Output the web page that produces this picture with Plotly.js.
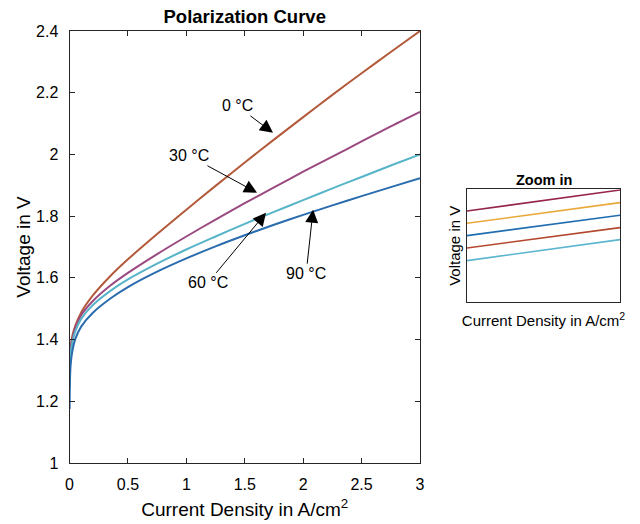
<!DOCTYPE html>
<html>
<head>
<meta charset="utf-8">
<script src="https://cdn.plot.ly/plotly-3.0.1.min.js"></script>
<style>html,body{margin:0;padding:0;background:#fff;}#chart{width:640px;height:524px;}</style>
</head>
<body>
<div id="chart"></div>
<script>
// Current density (A/cm^2)
const currentDensity = [0.001, 0.003, 0.01, 0.025, 0.05, 0.1, 0.2, 0.35, 0.5, 0.75, 1, 1.25, 1.5, 1.75, 2, 2.25, 2.5, 2.75, 3];
// Cell voltage (V) per temperature
const voltage0C  = [1.30, 1.34, 1.377, 1.413, 1.445, 1.488, 1.543, 1.606, 1.660, 1.742, 1.821, 1.898, 1.974, 2.048, 2.121, 2.193, 2.263, 2.332, 2.40];
const voltage30C = [1.275, 1.32, 1.367, 1.404, 1.439, 1.479, 1.525, 1.575, 1.616, 1.677, 1.734, 1.789, 1.842, 1.893, 1.944, 1.993, 2.042, 2.091, 2.138];
const voltage60C = [1.24, 1.30, 1.353, 1.392, 1.427, 1.467, 1.512, 1.558, 1.595, 1.646, 1.692, 1.734, 1.775, 1.814, 1.852, 1.890, 1.927, 1.964, 2.0];
const voltage90C = [1.175, 1.255, 1.319, 1.364, 1.402, 1.442, 1.487, 1.533, 1.570, 1.620, 1.663, 1.702, 1.738, 1.772, 1.804, 1.835, 1.865, 1.894, 1.923];
const seriesLabels = ['0 °C', '30 °C', '60 °C', '90 °C'];

// Zoom-in inset (normalised units)
const zoomX = [0, 1];
const zoomLine1 = [0.808, 0.994];
const zoomLine2 = [0.699, 0.882];
const zoomLine3 = [0.590, 0.770];
const zoomLine4 = [0.481, 0.661];
const zoomLine5 = [0.369, 0.555];

// Tick labels
const xTickVals = [0, 0.5, 1, 1.5, 2, 2.5, 3];
const xTickText = ['0', '0.5', '1', '1.5', '2', '2.5', '3'];
const yTickVals = [1, 1.2, 1.4, 1.6, 1.8, 2, 2.2, 2.4];
const yTickText = ['1', '1.2', '1.4', '1.6', '1.8', '2', '2.2', '2.4'];

// Annotation tip positions (data coords) for the arrow labels
const arrowTipX = [1.742, 1.605, 1.682, 2.085];
const arrowTipY = [2.070, 1.876, 1.811, 1.821];

const FONT = 'Liberation Sans, Arial, Helvetica, sans-serif';
const mainColors = ['#B35A3B', '#9A4A80', '#58B4C9', '#2A6CAE'];
const mainY = [voltage0C, voltage30C, voltage60C, voltage90C];

const traces = mainY.map((v, i) => ({
  x: currentDensity, y: v, type: 'scatter', mode: 'lines', name: seriesLabels[i],
  line: {color: mainColors[i], width: 2, shape: 'spline', smoothing: 0.8},
  xaxis: 'x', yaxis: 'y', showlegend: false, hoverinfo: 'skip'
}));

const zoomColors = ['#96254A', '#E9A93A', '#1F6DB0', '#B4482E', '#5BB5CF'];
[zoomLine1, zoomLine2, zoomLine3, zoomLine4, zoomLine5].forEach((v, i) => {
  traces.push({x: zoomX, y: v, type: 'scatter', mode: 'lines',
    line: {color: zoomColors[i], width: 1.6}, xaxis: 'x2', yaxis: 'y2', showlegend: false, hoverinfo: 'skip'});
});

// arrow offsets (pixels) from tip to label centre
const arrowAx = [-36, -68, -58, -7];
const arrowAy = [-27, -37, 70, 64];
const annotations = seriesLabels.map((t, i) => ({
  x: arrowTipX[i], y: arrowTipY[i], xref: 'x', yref: 'y', text: t,
  showarrow: true, ax: arrowAx[i], ay: arrowAy[i], axref: 'pixel', ayref: 'pixel',
  arrowhead: 2, arrowsize: 2.6, arrowwidth: 1, arrowcolor: '#000',
  font: {family: FONT, size: 16, color: '#000'}
}));

const axisLine = '#262626';
const layout = {
  width: 640, height: 524,
  margin: {l: 0, r: 0, t: 0, b: 0},
  paper_bgcolor: '#fff', plot_bgcolor: '#fff',
  font: {family: FONT, color: '#000'},
  showlegend: false,
  title: {text: '<b>Polarization Curve</b>', font: {family: FONT, size: 18.5, color: '#000'},
    x: 0.3824, xref: 'paper', xanchor: 'center', y: 1 - 17/524, yref: 'paper', yanchor: 'middle'},
  xaxis: {
    domain: [69.5/640, 420/640], range: [0, 3],
    tickvals: xTickVals, ticktext: xTickText, ticks: 'inside', ticklen: 5, tickcolor: axisLine,
    showline: true, linecolor: axisLine, linewidth: 1, mirror: 'ticks', showgrid: false, zeroline: false,
    tickfont: {family: FONT, size: 16, color: '#000'}, ticklabelstandoff: 7,
    title: {text: 'Current Density in A/cm<sup>2</sup>', font: {family: FONT, size: 19, color: '#000'}, standoff: 10}
  },
  yaxis: {
    domain: [1 - 463/524, 1 - 31/524], range: [1, 2.4],
    tickvals: yTickVals, ticktext: yTickText, ticks: 'inside', ticklen: 5, tickcolor: axisLine,
    showline: true, linecolor: axisLine, linewidth: 1, mirror: 'ticks', showgrid: false, zeroline: false,
    tickfont: {family: FONT, size: 16, color: '#000'}, ticklabelstandoff: 7,
    title: {text: 'Voltage in V', font: {family: FONT, size: 19, color: '#000'}, standoff: 0}
  },
  xaxis2: {
    domain: [467/640, 620/640], range: [0, 1], anchor: 'y2',
    showticklabels: false, ticks: '', showline: true, linecolor: axisLine, linewidth: 1, mirror: true,
    showgrid: false, zeroline: false,
    title: {text: 'Current Density in A/cm<sup>2</sup>', font: {family: FONT, size: 15, color: '#000'}, standoff: 13}
  },
  yaxis2: {
    domain: [1 - 302.3/524, 1 - 189.3/524], range: [0, 1], anchor: 'x2',
    showticklabels: false, ticks: '', showline: true, linecolor: axisLine, linewidth: 1, mirror: true,
    showgrid: false, zeroline: false,
    title: {text: 'Voltage in V', font: {family: FONT, size: 15, color: '#000'}, standoff: 1}
  },
  annotations: annotations.concat([{
    text: '<b>Zoom in</b>', xref: 'paper', yref: 'paper', x: 543.5/640, y: 1 - 180/524,
    xanchor: 'center', yanchor: 'middle', showarrow: false, font: {family: FONT, size: 14.5, color: '#000'}
  }])
};

Plotly.newPlot('chart', traces, layout, {staticPlot: true, displayModeBar: false});
</script>
</body>
</html>
